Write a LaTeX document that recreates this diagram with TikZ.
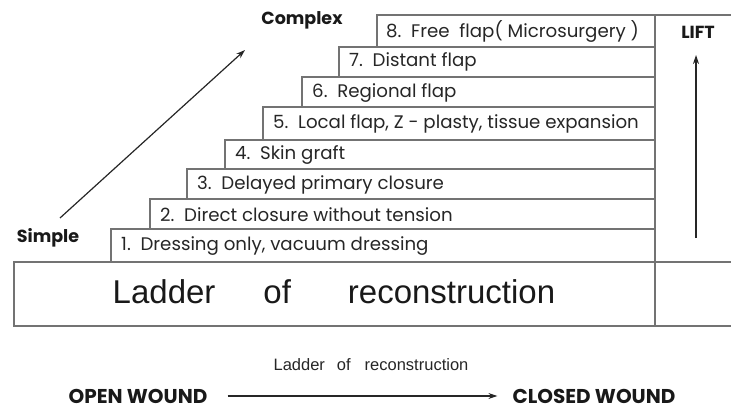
\documentclass[tikz,border=0pt]{standalone}
\usepackage{fontspec}
\setmainfont{Poppins}
\newfontfamily\arialfont{Liberation Sans}
\usetikzlibrary{arrows.meta}
\begin{document}
\begin{tikzpicture}[x=1pt,y=-1pt,
  stepline/.style={draw=black!55,line width=1.1pt},
  steplabel/.style={anchor=west,inner sep=0pt,font=\fontsize{18.2}{19}\selectfont,text=black!85},
  boldlabel/.style={inner sep=0pt,font=\fontsize{17.5}{18}\selectfont\bfseries,text=black!90},
  woundlabel/.style={inner sep=0pt,font=\fontsize{20}{21}\selectfont\bfseries,text=black!90},
  arr/.style={-{Stealth[length=9pt,width=6pt]},line width=1.2pt,black!85}]
\useasboundingbox (0,0) rectangle (731,409);
% steps: left x, top y, bottom y
\draw[stepline] (111,229) rectangle (655,262);
\draw[stepline] (150,199) rectangle (655,229);
\draw[stepline] (187,169) rectangle (655,199);
\draw[stepline] (225,140) rectangle (655,169);
\draw[stepline] (263,107) rectangle (655,140);
\draw[stepline] (302,77) rectangle (655,107);
\draw[stepline] (339,47) rectangle (655,77);
\draw[stepline] (377,15) rectangle (655,47);
\draw[stepline] (655,15) -- (731,15);
% base box
\draw[stepline] (731,262) -- (14,262) -- (14,326) -- (731,326);
\draw[stepline] (655,262) -- (655,326);
% step labels
\node[steplabel] (s1) at (121,246) {1.\ \ Dressing only, vacuum dressing};
\node[steplabel] (s2) at (160,215) {2.\ \ Direct closure without tension};
\node[steplabel] (s3) at (197,185) {3.\ \ Delayed primary closure};
\node[steplabel] (s4) at (235,155) {4.\ \ Skin graft};
\node[steplabel] (s5) at (273,124) {5.\ \ Local flap, Z - plasty, tissue expansion};
\node[steplabel] (s6) at (312,93) {6.\ \ Regional flap};
\node[steplabel] (s7) at (349,62) {7.\ \ Distant flap};
\node[steplabel] (s8) at (386,31) {8.\ \ Free\ \ flap( Microsurgery )};
% big title
\node[inner sep=0pt,font=\arialfont\fontsize{33}{35}\selectfont,text=black!90] (title) at (334,292)
  {Ladder\hspace{48pt}of\hspace{57pt}reconstruction};
% side labels
\node[boldlabel] (simple) at (48,238) {Simple};
\node[boldlabel] (complex) at (302,20) {Complex};
\node[boldlabel] (lift) at (698,32) {LIFT};
\coordinate (dstart) at (60,218);
\coordinate (dend) at (245,50);
\draw[arr] (dstart) -- (dend);
\coordinate (lstart) at (696,238);
\coordinate (lend) at (696,55);
\draw[arr] (lstart) -- (lend);
% bottom
\node[inner sep=0pt,font=\arialfont\fontsize{16.5}{17}\selectfont,text=black!85] (small) at (371,365)
  {Ladder\hspace{12pt}of\hspace{14pt}reconstruction};
\node[woundlabel] (open) at (138,396) {OPEN WOUND};
\node[woundlabel] (closed) at (594,396) {CLOSED WOUND};
\draw[arr] ([xshift=20pt]open.east) -- ([xshift=-15pt]closed.west);
\end{tikzpicture}
\end{document}
